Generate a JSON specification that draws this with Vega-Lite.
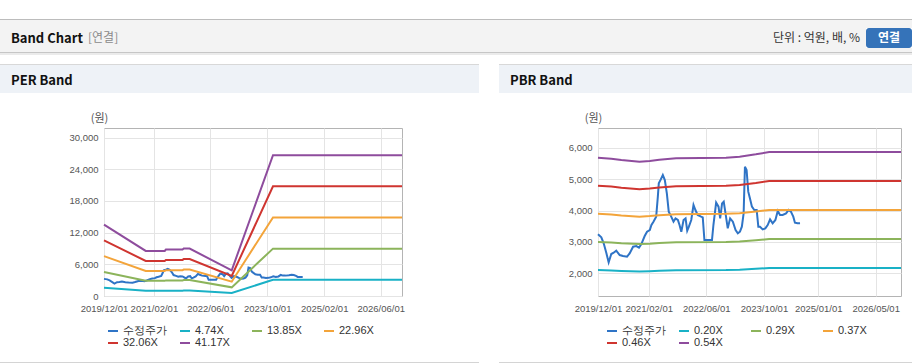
{
"$schema": "https://vega.github.io/schema/vega-lite/v6.json",
"background": "white",
"padding": {"left": 0, "top": 19, "right": 0, "bottom": 0},
"spacing": 0,
"bounds": "full",
"datasets": {
"price": [
{"date":"2019-12-01","series":"수정주가","value":3241},{"date":"2019-12-29","series":"수정주가","value":3146},{"date":"2020-01-18","series":"수정주가","value":2955},{"date":"2020-02-10","series":"수정주가","value":2637},{"date":"2020-02-29","series":"수정주가","value":2350},{"date":"2020-03-22","series":"수정주가","value":2615},{"date":"2020-04-11","series":"수정주가","value":2658},{"date":"2020-05-03","series":"수정주가","value":2722},{"date":"2020-06-01","series":"수정주가","value":2584},{"date":"2020-06-29","series":"수정주가","value":2552},{"date":"2020-08-02","series":"수정주가","value":2530},{"date":"2020-08-24","series":"수정주가","value":2637},{"date":"2020-09-22","series":"수정주가","value":2849},{"date":"2020-10-19","series":"수정주가","value":2870},{"date":"2020-11-11","series":"수정주가","value":2817},{"date":"2020-12-01","series":"수정주가","value":2934},{"date":"2020-12-29","series":"수정주가","value":3188},{"date":"2021-01-18","series":"수정주가","value":3326},{"date":"2021-02-10","series":"수정주가","value":3379},{"date":"2021-02-24","series":"수정주가","value":3538},{"date":"2021-03-13","series":"수정주가","value":3645},{"date":"2021-04-05","series":"수정주가","value":3804},{"date":"2021-04-19","series":"수정주가","value":4440},{"date":"2021-04-27","series":"수정주가","value":4865},{"date":"2021-05-14","series":"수정주가","value":4992},{"date":"2021-05-31","series":"수정주가","value":5130},{"date":"2021-06-17","series":"수정주가","value":4970},{"date":"2021-07-04","series":"수정주가","value":4546},{"date":"2021-07-20","series":"수정주가","value":3963},{"date":"2021-08-10","series":"수정주가","value":3804},{"date":"2021-08-29","series":"수정주가","value":3645},{"date":"2021-09-15","series":"수정주가","value":3750},{"date":"2021-10-05","series":"수정주가","value":3698},{"date":"2021-10-19","series":"수정주가","value":3538},{"date":"2021-11-03","series":"수정주가","value":3326},{"date":"2021-11-22","series":"수정주가","value":3698},{"date":"2021-12-09","series":"수정주가","value":3750},{"date":"2021-12-23","series":"수정주가","value":3358},{"date":"2022-01-06","series":"수정주가","value":3485},{"date":"2022-01-26","series":"수정주가","value":3698},{"date":"2022-02-14","series":"수정주가","value":4175},{"date":"2022-03-02","series":"수정주가","value":4016},{"date":"2022-03-21","series":"수정주가","value":3857},{"date":"2022-04-19","series":"수정주가","value":3804},{"date":"2022-05-03","series":"수정주가","value":3782},{"date":"2022-05-17","series":"수정주가","value":3061},{"date":"2022-05-31","series":"수정주가","value":3061},{"date":"2022-06-28","series":"수정주가","value":3061},{"date":"2022-07-20","series":"수정주가","value":3061},{"date":"2022-08-01","series":"수정주가","value":3538},{"date":"2022-08-24","series":"수정주가","value":4250},{"date":"2022-09-13","series":"수정주가","value":4122},{"date":"2022-09-27","series":"수정주가","value":3750},{"date":"2022-10-13","series":"수정주가","value":4228},{"date":"2022-10-27","series":"수정주가","value":4281},{"date":"2022-11-11","series":"수정주가","value":3910},{"date":"2022-11-30","series":"수정주가","value":3432},{"date":"2022-12-20","series":"수정주가","value":3750},{"date":"2023-01-12","series":"수정주가","value":3645},{"date":"2023-02-04","series":"수정주가","value":3379},{"date":"2023-02-23","series":"수정주가","value":3273},{"date":"2023-03-13","series":"수정주가","value":3326},{"date":"2023-03-29","series":"수정주가","value":3485},{"date":"2023-04-13","series":"수정주가","value":3910},{"date":"2023-04-24","series":"수정주가","value":5395},{"date":"2023-05-08","series":"수정주가","value":5289},{"date":"2023-05-22","series":"수정주가","value":4600},{"date":"2023-06-05","series":"수정주가","value":4387},{"date":"2023-06-22","series":"수정주가","value":4122},{"date":"2023-07-12","series":"수정주가","value":4016},{"date":"2023-08-01","series":"수정주가","value":4016},{"date":"2023-08-15","series":"수정주가","value":3485},{"date":"2023-08-29","series":"수정주가","value":3485},{"date":"2023-09-21","series":"수정주가","value":3400},{"date":"2023-10-13","series":"수정주가","value":3432},{"date":"2023-11-02","series":"수정주가","value":3538},{"date":"2023-11-22","series":"수정주가","value":3719},{"date":"2023-12-14","series":"수정주가","value":3592},{"date":"2024-01-06","series":"수정주가","value":3698},{"date":"2024-01-26","series":"수정주가","value":3984},{"date":"2024-02-14","series":"수정주가","value":3857},{"date":"2024-03-07","series":"수정주가","value":3857},{"date":"2024-04-05","series":"수정주가","value":3910},{"date":"2024-04-27","series":"수정주가","value":4016},{"date":"2024-05-16","series":"수정주가","value":3963},{"date":"2024-06-05","series":"수정주가","value":3804},{"date":"2024-06-19","series":"수정주가","value":3613},{"date":"2024-07-11","series":"수정주가","value":3592},{"date":"2024-08-01","series":"수정주가","value":3592}
],
"per": [
{"date":"2019-12-01","series":"4.74X","value":1556},{"date":"2019-12-01","series":"13.85X","value":4547},{"date":"2019-12-01","series":"22.96X","value":7538},{"date":"2019-12-01","series":"32.06X","value":10525},{"date":"2019-12-01","series":"41.17X","value":13516},
{"date":"2020-11-23","series":"4.74X","value":982},{"date":"2020-11-23","series":"13.85X","value":2868},{"date":"2020-11-23","series":"22.96X","value":4755},{"date":"2020-11-23","series":"32.06X","value":6640},{"date":"2020-11-23","series":"41.17X","value":8526},
{"date":"2021-05-05","series":"4.74X","value":982},{"date":"2021-05-05","series":"13.85X","value":2868},{"date":"2021-05-05","series":"22.96X","value":4755},{"date":"2021-05-05","series":"32.06X","value":6640},{"date":"2021-05-05","series":"41.17X","value":8526},
{"date":"2021-05-15","series":"4.74X","value":1011},{"date":"2021-05-15","series":"13.85X","value":2954},{"date":"2021-05-15","series":"22.96X","value":4897},{"date":"2021-05-15","series":"32.06X","value":6838},{"date":"2021-05-15","series":"41.17X","value":8782},
{"date":"2021-10-05","series":"4.74X","value":1011},{"date":"2021-10-05","series":"13.85X","value":2954},{"date":"2021-10-05","series":"22.96X","value":4897},{"date":"2021-10-05","series":"32.06X","value":6838},{"date":"2021-10-05","series":"41.17X","value":8782},
{"date":"2021-10-15","series":"4.74X","value":1033},{"date":"2021-10-15","series":"13.85X","value":3018},{"date":"2021-10-15","series":"22.96X","value":5003},{"date":"2021-10-15","series":"32.06X","value":6986},{"date":"2021-10-15","series":"41.17X","value":8971},
{"date":"2021-12-05","series":"4.74X","value":1033},{"date":"2021-12-05","series":"13.85X","value":3018},{"date":"2021-12-05","series":"22.96X","value":5003},{"date":"2021-12-05","series":"32.06X","value":6986},{"date":"2021-12-05","series":"41.17X","value":8971},
{"date":"2022-12-01","series":"4.74X","value":560},{"date":"2022-12-01","series":"13.85X","value":1636},{"date":"2022-12-01","series":"22.96X","value":2712},{"date":"2022-12-01","series":"32.06X","value":3786},{"date":"2022-12-01","series":"41.17X","value":4862},
{"date":"2023-11-20","series":"4.74X","value":3069},{"date":"2023-11-20","series":"13.85X","value":8966},{"date":"2023-11-20","series":"22.96X","value":14864},{"date":"2023-11-20","series":"32.06X","value":20756},{"date":"2023-11-20","series":"41.17X","value":26654},
{"date":"2026-12-01","series":"4.74X","value":3069},{"date":"2026-12-01","series":"13.85X","value":8966},{"date":"2026-12-01","series":"22.96X","value":14864},{"date":"2026-12-01","series":"32.06X","value":20756},{"date":"2026-12-01","series":"41.17X","value":26654}
],
"pbr": [
{"date":"2019-12-01","series":"0.20X","value":2104},{"date":"2019-12-01","series":"0.29X","value":2999},{"date":"2019-12-01","series":"0.37X","value":3893},{"date":"2019-12-01","series":"0.46X","value":4788},{"date":"2019-12-01","series":"0.54X","value":5682},
{"date":"2020-03-22","series":"0.20X","value":2093},{"date":"2020-03-22","series":"0.29X","value":2982},{"date":"2020-03-22","series":"0.37X","value":3871},{"date":"2020-03-22","series":"0.46X","value":4761},{"date":"2020-03-22","series":"0.54X","value":5650},
{"date":"2020-06-15","series":"0.20X","value":2077},{"date":"2020-06-15","series":"0.29X","value":2959},{"date":"2020-06-15","series":"0.37X","value":3842},{"date":"2020-06-15","series":"0.46X","value":4724},{"date":"2020-06-15","series":"0.54X","value":5607},
{"date":"2020-11-15","series":"0.20X","value":2057},{"date":"2020-11-15","series":"0.29X","value":2931},{"date":"2020-11-15","series":"0.37X","value":3805},{"date":"2020-11-15","series":"0.46X","value":4680},{"date":"2020-11-15","series":"0.54X","value":5554},
{"date":"2021-02-10","series":"0.20X","value":2066},{"date":"2021-02-10","series":"0.29X","value":2944},{"date":"2021-02-10","series":"0.37X","value":3822},{"date":"2021-02-10","series":"0.46X","value":4700},{"date":"2021-02-10","series":"0.54X","value":5578},
{"date":"2021-05-01","series":"0.20X","value":2080},{"date":"2021-05-01","series":"0.29X","value":2964},{"date":"2021-05-01","series":"0.37X","value":3848},{"date":"2021-05-01","series":"0.46X","value":4732},{"date":"2021-05-01","series":"0.54X","value":5616},
{"date":"2021-09-20","series":"0.20X","value":2096},{"date":"2021-09-20","series":"0.29X","value":2987},{"date":"2021-09-20","series":"0.37X","value":3878},{"date":"2021-09-20","series":"0.46X","value":4769},{"date":"2021-09-20","series":"0.54X","value":5660},
{"date":"2022-11-15","series":"0.20X","value":2104},{"date":"2022-11-15","series":"0.29X","value":2999},{"date":"2022-11-15","series":"0.37X","value":3893},{"date":"2022-11-15","series":"0.46X","value":4788},{"date":"2022-11-15","series":"0.54X","value":5682},
{"date":"2023-03-10","series":"0.20X","value":2116},{"date":"2023-03-10","series":"0.29X","value":3016},{"date":"2023-03-10","series":"0.37X","value":3915},{"date":"2023-03-10","series":"0.46X","value":4814},{"date":"2023-03-10","series":"0.54X","value":5714},
{"date":"2023-07-25","series":"0.20X","value":2144},{"date":"2023-07-25","series":"0.29X","value":3055},{"date":"2023-07-25","series":"0.37X","value":3966},{"date":"2023-07-25","series":"0.46X","value":4877},{"date":"2023-07-25","series":"0.54X","value":5788},
{"date":"2023-11-15","series":"0.20X","value":2171},{"date":"2023-11-15","series":"0.29X","value":3094},{"date":"2023-11-15","series":"0.37X","value":4017},{"date":"2023-11-15","series":"0.46X","value":4939},{"date":"2023-11-15","series":"0.54X","value":5862},
{"date":"2026-12-01","series":"0.20X","value":2171},{"date":"2026-12-01","series":"0.29X","value":3094},{"date":"2026-12-01","series":"0.37X","value":4017},{"date":"2026-12-01","series":"0.46X","value":4939},{"date":"2026-12-01","series":"0.54X","value":5862}
]
},
"vconcat": [
{"data":{"values":[]},"mark":"point","width":912,"height":1,"view":{"fill":"#bcbcbc"}},
{"data":{"values":[]},"mark":"point","width":912,"height":8,"view":{"fill":"#f3f3f3"}},
{"hconcat": [
 {"data":{"values":[]},"mark":"point","width":88,"height":20,"view":{"fill":"#f3f3f3"},
  "title":{"text":"Band Chart","anchor":"start","frame":"group","dx":11,"offset":-17.7,"font":"Noto Sans CJK KR","fontSize":13,"fontWeight":"bold","color":"#111111"}},
 {"data":{"values":[]},"mark":"point","width":682,"height":20,"view":{"fill":"#f3f3f3"},
  "title":{"text":"[연결]","anchor":"start","frame":"group","dx":0,"offset":-17.1,"font":"Noto Sans CJK KR","fontSize":12,"fontWeight":"normal","color":"#8a8a8a"}},
 {"data":{"values":[]},"mark":"point","width":96,"height":20,"view":{"fill":"#f3f3f3"},
  "title":{"text":"단위 : 억원, 배, %","anchor":"end","frame":"group","dx":-6,"offset":-17.1,"font":"Noto Sans CJK KR","fontSize":12,"fontWeight":"normal","color":"#333333"}},
 {"data":{"values":[]},"mark":"point","width":46,"height":20,"view":{"fill":"#3573b9","cornerRadius":3},
  "title":{"text":"연결","anchor":"middle","frame":"group","offset":-16.8,"font":"Noto Sans CJK KR","fontSize":12,"fontWeight":"bold","color":"#ffffff"}}
], "spacing": 0, "bounds": "flush"},
{"data":{"values":[]},"mark":"point","width":912,"height":4,"view":{"fill":"#f3f3f3"}},
{"data":{"values":[]},"mark":"point","width":912,"height":1,"view":{"fill":"#c6c6c6"}},
{"data":{"values":[]},"mark":"point","width":912,"height":2,"view":{"fill":"#ebebeb"}},
{"data":{"values":[]},"mark":"point","width":912,"height":9},
{"hconcat": [
 {"data":{"values":[]},"mark":"point","width":479,"height":1,"view":{"fill":"#d8d8d8"}},
 {"data":{"values":[]},"mark":"point","width":20,"height":1},
 {"data":{"values":[]},"mark":"point","width":413,"height":1,"view":{"fill":"#d8d8d8"}}
], "spacing": 0, "bounds": "flush"},
{"hconcat": [
 {"data":{"values":[]},"mark":"point","width":479,"height":28,"view":{"fill":"#eef2f7"},
  "title":{"text":"PER Band","anchor":"start","frame":"group","dx":11,"offset":-23.1,"font":"Noto Sans CJK KR","fontSize":13,"fontWeight":"bold","color":"#111111"}},
 {"data":{"values":[]},"mark":"point","width":20,"height":28},
 {"data":{"values":[]},"mark":"point","width":413,"height":28,"view":{"fill":"#eef2f7"},
  "title":{"text":"PBR Band","anchor":"start","frame":"group","dx":11,"offset":-23.1,"font":"Noto Sans CJK KR","fontSize":13,"fontWeight":"bold","color":"#111111"}}
], "spacing": 0, "bounds": "flush"},
{"data":{"values":[]},"mark":"point","width":912,"height":18},
{"hconcat": [
 {"data":{"values":[]},"mark":"point","width":104,"height":168},
 {
  "width": 298, "height": 168,
  "view": {"stroke": "#b4b4b4"},
  "encoding": {
   "x": {"field": "date", "type": "temporal",
    "scale": {"type": "utc", "domain": [{"year": 2019, "month": 12, "date": 1, "utc": true}, {"year": 2026, "month": 12, "date": 1, "utc": true}]},
    "axis": {"title": null, "format": "%Y/%m/%d", "labelPadding": 7,
     "values": [{"year": 2019, "month": 12, "date": 1, "utc": true}, {"year": 2021, "month": 2, "date": 1, "utc": true}, {"year": 2022, "month": 6, "date": 1, "utc": true}, {"year": 2023, "month": 10, "date": 1, "utc": true}, {"year": 2025, "month": 2, "date": 1, "utc": true}, {"year": 2026, "month": 6, "date": 1, "utc": true}]}},
   "y": {"field": "value", "type": "quantitative",
    "scale": {"domain": [0, 31800], "nice": false, "zero": false},
    "axis": {"title": "(원)", "format": ",d", "values": [0, 6000, 12000, 18000, 24000, 30000], "labelPadding": 6}},
   "color": {"field": "series", "type": "nominal",
    "scale": {"domain": ["수정주가", "4.74X", "13.85X", "22.96X", "32.06X", "41.17X"], "range": ["#2f74c6", "#19b1c6", "#8cb45b", "#f3a43a", "#cf3530", "#8e4c9d"]},
    "legend": {"title": null, "orient": "none", "legendX": 3, "legendY": 197, "columns": 4, "direction": "horizontal", "gridAlign": "all", "columnPadding": 9, "rowPadding": 1}}
  },
  "layer": [
   {"data": {"name": "price"}, "mark": {"type": "line", "strokeWidth": 2}},
   {"data": {"name": "per"}, "mark": {"type": "line", "strokeWidth": 2}}
  ]
 },
 {"data":{"values":[]},"mark":"point","width":196,"height":168},
 {
  "width": 303, "height": 168,
  "view": {"stroke": "#b4b4b4"},
  "encoding": {
   "x": {"field": "date", "type": "temporal",
    "scale": {"type": "utc", "domain": [{"year": 2019, "month": 12, "date": 1, "utc": true}, {"year": 2026, "month": 12, "date": 1, "utc": true}]},
    "axis": {"title": null, "format": "%Y/%m/%d", "labelPadding": 7,
     "values": [{"year": 2019, "month": 12, "date": 1, "utc": true}, {"year": 2021, "month": 2, "date": 1, "utc": true}, {"year": 2022, "month": 6, "date": 1, "utc": true}, {"year": 2023, "month": 10, "date": 1, "utc": true}, {"year": 2025, "month": 1, "date": 1, "utc": true}, {"year": 2026, "month": 5, "date": 1, "utc": true}]}},
   "y": {"field": "value", "type": "quantitative",
    "scale": {"domain": [1280, 6625], "nice": false, "zero": false},
    "axis": {"title": "(원)", "format": ",d", "values": [2000, 3000, 4000, 5000, 6000], "labelPadding": 6}},
   "color": {"field": "series", "type": "nominal",
    "scale": {"domain": ["수정주가", "0.20X", "0.29X", "0.37X", "0.46X", "0.54X"], "range": ["#2f74c6", "#19b1c6", "#8cb45b", "#f3a43a", "#cf3530", "#8e4c9d"]},
    "legend": {"title": null, "orient": "none", "legendX": 8, "legendY": 197, "columns": 4, "direction": "horizontal", "gridAlign": "all", "columnPadding": 9, "rowPadding": 1}}
  },
  "layer": [
   {"data": {"name": "price"}, "mark": {"type": "line", "strokeWidth": 2}},
   {"data": {"name": "pbr"}, "mark": {"type": "line", "strokeWidth": 2}}
  ]
 },
 {"data":{"values":[]},"mark":"point","width":11,"height":168}
], "spacing": 0, "bounds": "flush",
 "resolve": {"scale": {"color": "independent", "x": "independent", "y": "independent"}, "legend": {"color": "independent"}}},
{"data":{"values":[]},"mark":"point","width":912,"height":13},
{"hconcat": [
 {"data":{"values":[]},"mark":"point","width":479,"height":1,"view":{"fill":"#d4d4d4"}},
 {"data":{"values":[]},"mark":"point","width":20,"height":1},
 {"data":{"values":[]},"mark":"point","width":413,"height":1,"view":{"fill":"#d4d4d4"}}
], "spacing": 0, "bounds": "flush"}
],
"resolve": {"scale": {"color": "independent"}, "legend": {"color": "independent"}},
"config": {
 "view": {"stroke": null},
 "axis": {"labelFont": "Liberation Sans", "labelFontSize": 9.5, "labelColor": "#555555", "ticks": false, "domain": false, "grid": true, "gridColor": "#e4e4e4", "labelFlush": false, "labelOverlap": false, "labelBound": false, "titleFont": "Noto Sans CJK KR", "titleFontSize": 11, "titleFontWeight": "normal", "titleColor": "#555555"},
 "axisY": {"titleAngle": 0, "titleX": -5, "titleY": -10, "titleAlign": "center", "titleBaseline": "middle"},
 "legend": {"labelFont": "Liberation Sans", "labelFontSize": 11, "labelColor": "#333333", "symbolType": "stroke", "symbolStrokeWidth": 2, "symbolSize": 100, "padding": 0},
 "line": {"strokeWidth": 2}
}
}
